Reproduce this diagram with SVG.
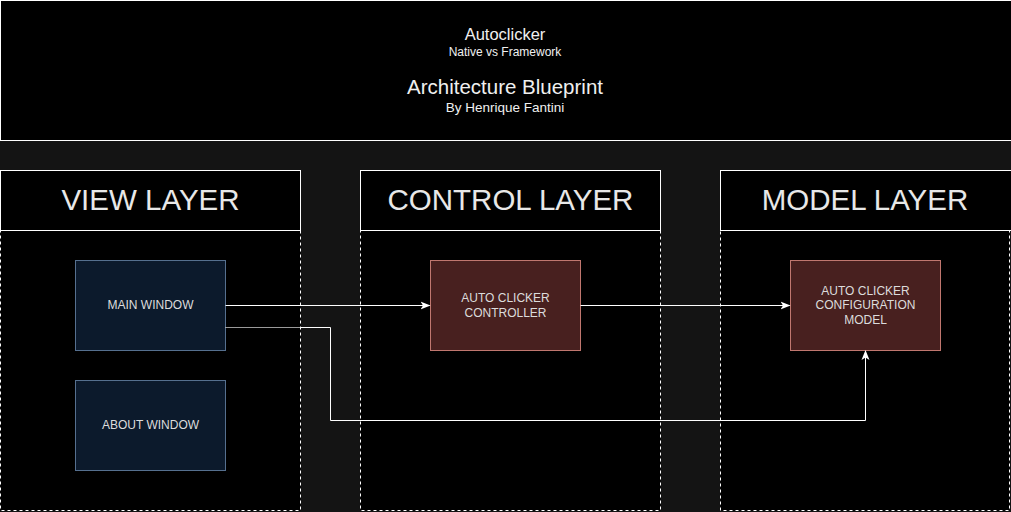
<svg xmlns="http://www.w3.org/2000/svg" width="1011" height="512" viewBox="0 0 1011 512">
<style>
.t{font-family:"Liberation Sans",Arial,sans-serif;fill:#f0f0f0;text-anchor:middle}
.hdr{fill:#000;stroke:#fff;stroke-width:1}
.body{fill:#000;stroke:#fff;stroke-width:1;stroke-dasharray:3 3}
.ht{font-size:29.5px;fill:#e8e8e8}
.view{fill:#0c1a2c;stroke:#56708f;stroke-width:1}
.red{fill:#48201f;stroke:#c0776f;stroke-width:1}
.nt{font-family:"Liberation Sans",Arial,sans-serif;font-size:12px;fill:#dcdcdc;text-anchor:middle}
.edge{fill:none;stroke:#fff;stroke-width:1}
</style>
<defs>
<marker id="arr" viewBox="0 0 10 10" refX="9" refY="5" markerWidth="10" markerHeight="10" markerUnits="userSpaceOnUse" orient="auto">
<path d="M0,1 L10,5 L0,9 L2.5,5 Z" fill="#fff"/>
</marker>
</defs>
<rect x="0" y="0" width="1011" height="512" fill="#141414"/>
<g id="title">
<rect x="0.5" y="0.5" width="1020" height="140" fill="#000" stroke="#fff"/>
<text class="t" x="505" y="40" font-size="16.5">Autoclicker</text>
<text class="t" x="505" y="56" font-size="12">Native vs Framework</text>
<text class="t" x="505" y="94" font-size="20.5">Architecture Blueprint</text>
<text class="t" x="505" y="112" font-size="13.5">By Henrique Fantini</text>
</g>
<g id="view-layer">
<rect class="body" x="0.5" y="230.5" width="300" height="280"/>
<rect class="hdr" x="0.5" y="170.5" width="300" height="60"/>
<text class="t ht" x="150.5" y="210">VIEW LAYER</text>
</g>
<g id="control-layer">
<rect class="body" x="360.5" y="230.5" width="300" height="280"/>
<rect class="hdr" x="360.5" y="170.5" width="300" height="60"/>
<text class="t ht" x="510.5" y="210">CONTROL LAYER</text>
</g>
<g id="model-layer">
<rect class="body" x="720.5" y="230.5" width="289" height="280"/>
<rect class="hdr" x="720.5" y="170.5" width="300" height="60"/>
<text class="t ht" x="865" y="210">MODEL LAYER</text>
</g>
<g id="main-window">
<rect class="view" x="75.5" y="260.5" width="150" height="90"/>
<text class="nt" x="150.5" y="309">MAIN WINDOW</text>
</g>
<g id="about-window">
<rect class="view" x="75.5" y="380.5" width="150" height="90"/>
<text class="nt" x="150.5" y="429">ABOUT WINDOW</text>
</g>
<g id="controller">
<rect class="red" x="430.5" y="260.5" width="150" height="90"/>
<text class="nt" x="505.5" y="301.5">AUTO CLICKER</text>
<text class="nt" x="505.5" y="316.5">CONTROLLER</text>
</g>
<g id="config-model">
<rect class="red" x="790.5" y="260.5" width="150" height="90"/>
<text class="nt" x="865.5" y="294.5">AUTO CLICKER</text>
<text class="nt" x="865.5" y="309">CONFIGURATION</text>
<text class="nt" x="865.5" y="324">MODEL</text>
</g>
<g id="connectors">
<path class="edge" d="M225.5,305.5 H429.5" marker-end="url(#arr)"/>
<path class="edge" d="M580.5,305.5 H789.5" marker-end="url(#arr)"/>
<path class="edge" d="M225.5,327.5 H330.5 V420.5 H865.5 V351" marker-end="url(#arr)"/>
<path d="M225.5,327.5 H300" stroke="#9a9a9a" stroke-width="1" fill="none"/>
</g>
</svg>
